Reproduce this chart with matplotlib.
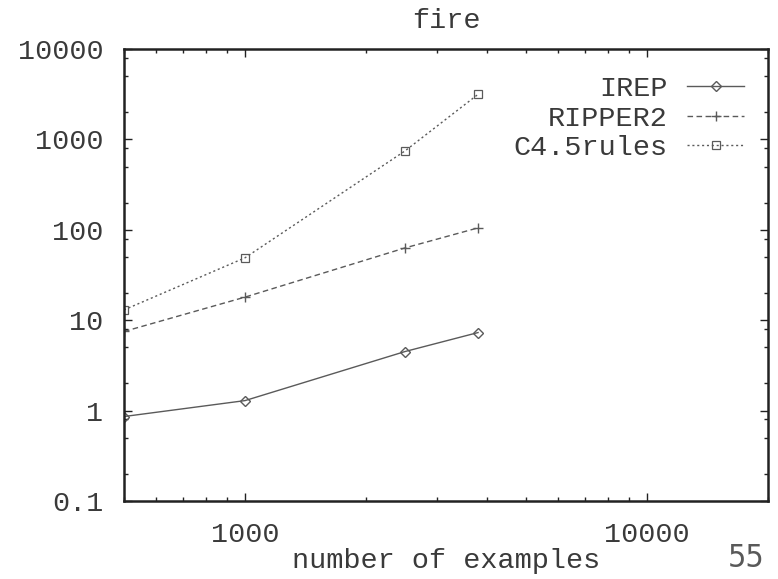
import matplotlib
matplotlib.use("Agg")
import matplotlib.pyplot as plt
from matplotlib.ticker import LogLocator, FixedLocator, NullFormatter

# Run time vs. training set size on the "fire" data set
n_examples = [500, 1000, 2500, 3800]
irep = [0.86, 1.29, 4.5, 7.3]
ripper2 = [7.5, 18, 63, 105]
c45rules = [13, 49, 745, 3150]

x_ticks = [1000, 10000]
y_ticks = [0.1, 1, 10, 100, 1000, 10000]
y_tick_labels = ["0.1", "1", "10", "100", "1000", "10000"]

mono = "Liberation Mono"
ink = "#3a3a3a"
line_col = "#5a5a5a"

fig = plt.figure(figsize=(7.78, 5.79), dpi=100)
ax = fig.add_axes([0.1594, 0.1347, 0.8277, 0.7807])

ax.plot(n_examples, irep, color=line_col, lw=1.0, ls="-",
        marker="D", ms=5, mfc="none", mec=line_col, mew=1.0, label="IREP")
ax.plot(n_examples, ripper2, color=line_col, lw=1.0, ls=(0, (4, 2.5)),
        marker="+", ms=7, mec=line_col, mew=1.0, label="RIPPER2")
ax.plot(n_examples, c45rules, color=line_col, lw=1.0, ls=(0, (1.5, 2)),
        marker="s", ms=6, mfc="none", mec=line_col, mew=0.9, label="C4.5rules")

ax.set_xscale("log")
ax.set_yscale("log")
ax.set_xlim(500, 20000)
ax.set_ylim(0.1, 10000)

ax.xaxis.set_major_locator(FixedLocator(x_ticks))
ax.set_xticklabels([str(v) for v in x_ticks])
ax.xaxis.set_minor_locator(LogLocator(base=10, subs=range(2, 10)))
ax.xaxis.set_minor_formatter(NullFormatter())

ax.yaxis.set_major_locator(FixedLocator(y_ticks))
ax.set_yticklabels(y_tick_labels)
ax.yaxis.set_minor_locator(LogLocator(base=10, subs=(2, 5, 8)))
ax.yaxis.set_minor_formatter(NullFormatter())

ax.tick_params(which="both", direction="in", top=True, right=True,
               color="#222222", width=1.0)
ax.tick_params(which="major", length=6, labelsize=20.5, labelcolor=ink)
ax.tick_params(axis="x", which="major", pad=15)
ax.tick_params(axis="y", which="major", pad=15)
ax.tick_params(which="minor", length=3)
for lab in ax.get_xticklabels() + ax.get_yticklabels():
    lab.set_fontfamily(mono)

for sp in ax.spines.values():
    sp.set_linewidth(1.8)
    sp.set_color("#222222")

ax.set_title("fire", fontfamily=mono, fontsize=20.5, color=ink, pad=15)
ax.set_xlabel("number of examples", fontfamily=mono, fontsize=20.5,
              color=ink, labelpad=0)

leg = ax.legend(loc="upper right", bbox_to_anchor=(0.963, 0.94),
                markerfirst=False, frameon=False,
                prop={"family": mono, "size": 20.5},
                handlelength=2.0, handletextpad=0.7,
                labelspacing=0.12, borderpad=0, borderaxespad=0)
for t in leg.get_texts():
    t.set_color(ink)

# slide page number
fig.text(0.983, 0.02, "55", fontsize=23, color="#595959",
         fontfamily="DejaVu Sans", fontstretch="condensed",
         ha="right", va="baseline")

fig.savefig("out.png", dpi=100)
